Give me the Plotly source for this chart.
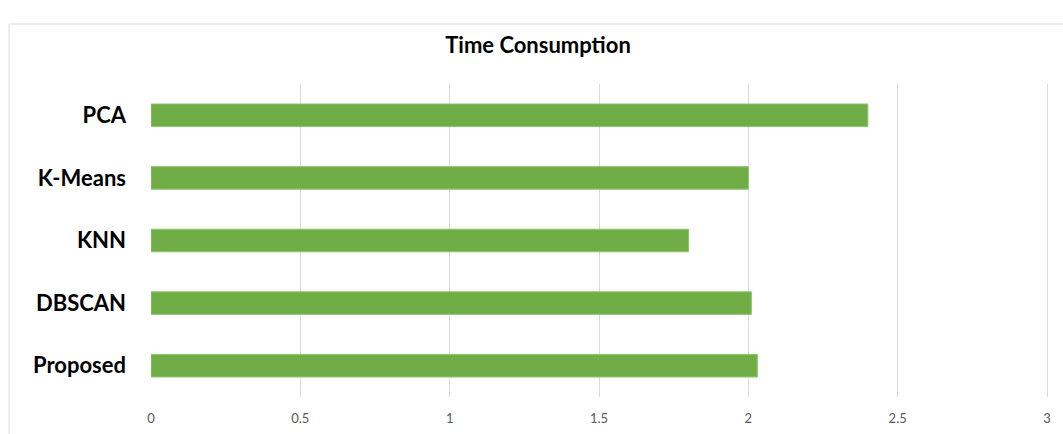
import plotly.graph_objects as go

methods = ["Proposed", "DBSCAN", "KNN", "K-Means", "PCA"]
time_values = [2.03, 2.01, 1.80, 2.00, 2.40]
x_ticks = [0, 0.5, 1, 1.5, 2, 2.5, 3]
x_tick_labels = ["0", "0.5", "1", "1.5", "2", "2.5", "3"]

fig = go.Figure()
fig.add_trace(go.Bar(
    x=time_values, y=methods, orientation="h",
    marker=dict(color="#70AD47", line=dict(color="#8CC56A", width=1)),
    width=0.36,
))

L, R, T, B = 151, 10, 84, 37
W, H = 1063, 434
pw, ph = W - L - R, H - T - B

fig.update_layout(
    width=W, height=H,
    margin=dict(l=L, r=R, t=T, b=B, autoexpand=False),
    paper_bgcolor="white", plot_bgcolor="white",
    showlegend=False,
    title=dict(text="<b>Time Consumption</b>", x=(538 - L) / pw, xref="paper",
               y=1 - 45 / H, yanchor="middle", xanchor="center",
               font=dict(family="Lato", size=22, color="black")),
    xaxis=dict(range=[0, 3.02], tickvals=x_ticks, ticktext=x_tick_labels,
               showgrid=True, gridcolor="#d9d9d9", gridwidth=1,
               zeroline=False, showline=False, ticks="",
               ticklabelstandoff=12, automargin=False,
               tickfont=dict(family="Lato", size=13, color="#595959")),
    yaxis=dict(showgrid=False, zeroline=False, showline=False, ticks="",
               ticklabelstandoff=24, automargin=False,
               tickfont=dict(family="Lato", size=22, color="black"),
               tickprefix="<b>", ticksuffix="</b>"),
    shapes=[dict(type="rect", xref="paper", yref="paper",
                 x0=(9 - L) / pw, x1=1.2, y0=-0.3, y1=(H - B - 24) / ph,
                 line=dict(color="#d9d9d9", width=1), fillcolor="rgba(0,0,0,0)",
                 layer="below")],
)

fig.write_html("out.html")
